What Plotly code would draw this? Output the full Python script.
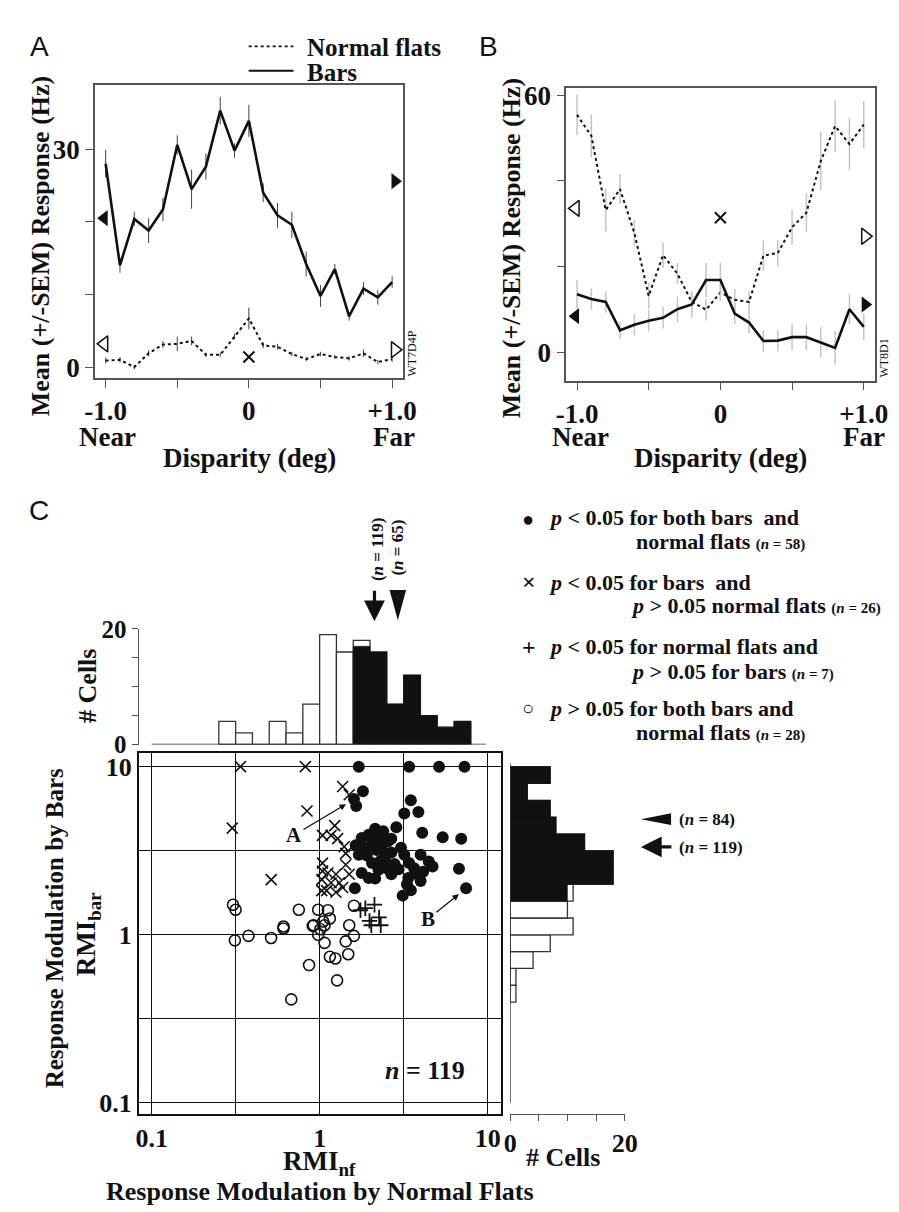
import math
import plotly.graph_objects as go

W, H = 899, 1212
SERIF = "Liberation Serif"
SANS = "Liberation Sans"
INK = "#111111"

# ---------------- Panel A / B data ----------------
disparity = [-1.0, -0.9, -0.8, -0.7, -0.6, -0.5, -0.4, -0.3, -0.2, -0.1, 0.0,
             0.1, 0.2, 0.3, 0.4, 0.5, 0.6, 0.7, 0.8, 0.9, 1.0]
disp_ticks = [-1.0, -0.5, 0.0, 0.5, 1.0]
disp_ticktext = ["-1.0", "", "0", "", "+1.0"]

A_bars = [28.0, 14.0, 20.4, 18.8, 21.7, 30.6, 24.5, 27.6, 35.3, 29.8, 33.9,
          24.0, 20.9, 19.6, 14.2, 9.8, 13.5, 7.0, 10.8, 9.6, 11.7]
A_bars_sem = [1.9, 1.0, 1.0, 1.7, 1.6, 1.3, 2.7, 1.8, 1.9, 1.0, 2.2,
              1.3, 1.7, 1.8, 1.7, 1.5, 0.7, 0.6, 0.9, 1.0, 0.8]
A_flats = [0.9, 1.0, 0.0, 1.9, 3.1, 3.2, 3.6, 1.7, 1.7, 4.2, 6.7,
           3.0, 2.8, 1.8, 1.1, 1.8, 1.4, 1.2, 1.9, 0.7, 1.1]
A_flats_sem = [0.4, 0.4, 0.3, 0.4, 0.5, 1.0, 0.6, 0.3, 0.3, 0.4, 1.5,
               0.4, 0.4, 0.3, 0.3, 0.3, 0.3, 0.3, 0.5, 0.3, 0.4]
A_edge_x = [-1.01, 1.02]
A_bars_mono = [20.5, 25.6]      # filled triangles (left eye, right eye)
A_flats_mono = [3.2, 2.4]       # open triangles
A_cross = 1.4

B_flats = [55.4, 50.5, 33.2, 38.1, 27.9, 13.2, 22.7, 18.4, 11.8, 10.0, 14.0,
           12.3, 11.8, 22.6, 23.2, 29.2, 32.6, 44.6, 52.8, 48.6, 53.1]
B_flats_sem = [4.7, 5.0, 5.0, 3.5, 3.0, 3.0, 3.0, 2.5, 2.5, 2.5, 2.0,
               2.5, 2.5, 3.5, 3.0, 4.0, 4.5, 6.8, 6.0, 6.0, 5.5]
B_bars = [13.6, 12.5, 11.8, 5.2, 6.5, 7.4, 8.1, 10.1, 11.2, 16.9, 16.9,
          9.1, 7.0, 2.7, 2.8, 3.6, 3.6, 2.4, 1.1, 10.1, 6.0]
B_bars_sem = [3.2, 2.5, 2.5, 2.0, 2.5, 2.5, 2.5, 3.0, 3.0, 4.0, 4.0,
              2.5, 2.5, 2.5, 2.5, 3.0, 3.0, 3.5, 4.0, 3.5, 3.0]
B_edge_x = [-1.01, 1.01]
B_bars_mono = [8.5, 11.2]
B_flats_mono = [33.6, 27.1]
B_cross = 31.4

# ---------------- Panel C data ----------------
both_nf = [1.71, 3.41, 5.14, 7.28, 1.81, 1.60, 1.65, 3.49, 3.87, 3.19, 2.86, 4.08, 5.40, 6.96,
           2.14, 2.39, 1.96, 1.78, 1.64, 2.05, 2.19, 1.91, 2.67, 3.05, 2.44, 2.79, 2.05, 1.78,
           2.14, 1.62, 3.41, 3.99, 4.46, 4.13, 3.37, 3.49, 3.12, 6.75, 7.44, 2.24, 1.87, 2.34,
           2.50, 2.09, 2.67, 2.29, 3.19, 3.65, 2.67, 1.96, 3.99, 3.31, 1.71, 2.55, 2.95, 3.80,
           4.70, 2.30]
both_bar = [10, 10, 10, 10, 7.13, 6.43, 5.83, 6.31, 5.38, 5.26, 4.36, 4.05, 3.80, 3.73,
            4.27, 4.13, 3.93, 3.76, 3.41, 3.49, 3.19, 2.96, 3.09, 3.29, 2.85, 2.64, 2.67, 2.33,
            2.16, 1.89, 2.67, 2.99, 2.73, 2.37, 2.18, 1.84, 1.71, 2.47, 1.89, 2.44, 3.27, 3.27,
            2.49, 3.81, 3.73, 3.57, 2.99, 2.49, 2.29, 2.18, 2.09, 2.00, 2.99, 3.60, 2.45, 2.30,
            2.55, 2.75]
bars_nf = [0.338, 0.822, 1.37, 1.50, 0.841, 0.302, 1.23, 1.04, 1.17, 1.28, 1.40, 1.43, 0.515,
           1.04, 1.04, 1.03, 1.25, 1.43, 1.50, 1.17, 1.31, 1.10, 1.25, 1.03, 1.37, 1.12]
bars_bar = [10, 10, 7.62, 6.81, 5.45, 4.31, 4.46, 3.90, 3.90, 3.73, 3.34, 3.05, 2.13,
            2.67, 2.39, 2.13, 2.29, 2.61, 2.29, 2.04, 2.04, 1.83, 1.79, 1.83, 1.91, 2.33]
flats_nf = [1.87, 2.12, 1.98, 2.26, 2.31, 2.03, 1.75]
flats_bar = [1.44, 1.51, 1.21, 1.27, 1.14, 1.14, 1.40]
none_nf = [0.305, 0.316, 0.752, 0.98, 1.12, 1.60, 1.15, 0.61, 0.92, 1.07, 1.50, 0.313, 0.377,
           0.514, 0.609, 0.91, 0.98, 1.01, 1.07, 1.43, 1.60, 1.15, 1.24, 1.48, 0.865, 1.27,
           0.678, 1.05]
none_bar = [1.51, 1.41, 1.41, 1.41, 1.40, 1.49, 1.25, 1.12, 1.14, 1.14, 1.14, 0.927, 0.986,
            0.957, 1.09, 1.13, 1.00, 1.08, 0.896, 0.914, 0.986, 0.741, 0.723, 0.766, 0.661,
            0.536, 0.413, 1.20]
log_ticks = [0.1, 0.316, 1, 3.16, 10]
log_ticktext = ["0.1", "", "1", "", "10"]

# histograms: bins in log10(RMI), width 0.1
top_bin_low = [-0.6, -0.5, -0.4, -0.3, -0.2, -0.1, 0.0, 0.1, 0.2, 0.3, 0.4, 0.5, 0.6, 0.7, 0.8]
top_open = [4, 2, 0, 4, 2, 7, 19, 16, 1, 0, 0, 0, 0, 0, 0]
top_filled = [0, 0, 0, 0, 0, 0, 0, 0, 17, 16, 7, 12, 5, 3, 4]
right_bin_low = [-0.4, -0.3, -0.2, -0.1, 0.0, 0.1, 0.2, 0.3, 0.4, 0.5, 0.6, 0.7, 0.8, 0.9]
right_open = [1, 1, 4, 7, 11, 10, 1, 0, 0, 0, 0, 0, 0, 0]
right_filled = [0, 0, 0, 0, 0, 0, 10, 18, 18, 13, 8, 7, 3, 7]
hist_ticks = [0, 5, 10, 15, 20]
hist_ticktext = ["0", "", "", "", "20"]

mean_nf_all, mean_nf_sig = 2.12, 2.92      # n = 119, n = 65
mean_bar_all, mean_bar_sig = 3.33, 4.87    # n = 119, n = 84


def PX(x):
    return x / W


def PY(y):
    return 1 - y / H


fig = go.Figure()

# ---------------- Panel A ----------------
fig.add_trace(go.Scatter(x=disparity, y=A_flats, mode="lines", xaxis="x", yaxis="y",
                         line=dict(color=INK, width=2, dash="dot"),
                         error_y=dict(type="data", array=A_flats_sem, color="#444",
                                      thickness=1, width=0)))
fig.add_trace(go.Scatter(x=disparity, y=A_bars, mode="lines", xaxis="x", yaxis="y",
                         line=dict(color=INK, width=2.6),
                         error_y=dict(type="data", array=A_bars_sem, color="#444",
                                      thickness=1, width=0)))
fig.add_trace(go.Scatter(x=A_edge_x, y=A_bars_mono, mode="markers", xaxis="x", yaxis="y",
                         marker=dict(symbol=["triangle-left", "triangle-right"], size=14,
                                     color=INK, line=dict(width=0))))
fig.add_trace(go.Scatter(x=A_edge_x, y=A_flats_mono, mode="markers", xaxis="x", yaxis="y",
                         marker=dict(symbol=["triangle-left-open", "triangle-right-open"],
                                     size=14, color=INK, line=dict(width=1.5, color=INK))))
fig.add_trace(go.Scatter(x=[0.0], y=[A_cross], mode="markers", xaxis="x", yaxis="y",
                         marker=dict(symbol="x-thin-open", size=11, color=INK,
                                     line=dict(width=2, color=INK))))

# ---------------- Panel B ----------------
fig.add_trace(go.Scatter(x=disparity, y=B_flats, mode="lines", xaxis="x2", yaxis="y2",
                         line=dict(color=INK, width=2, dash="dot"),
                         error_y=dict(type="data", array=B_flats_sem, color="#c4c4c4",
                                      thickness=1.5, width=0)))
fig.add_trace(go.Scatter(x=disparity, y=B_bars, mode="lines", xaxis="x2", yaxis="y2",
                         line=dict(color=INK, width=2.6),
                         error_y=dict(type="data", array=B_bars_sem, color="#c4c4c4",
                                      thickness=1.5, width=0)))
fig.add_trace(go.Scatter(x=B_edge_x, y=B_bars_mono, mode="markers", xaxis="x2", yaxis="y2",
                         marker=dict(symbol=["triangle-left", "triangle-right"], size=14,
                                     color=INK, line=dict(width=0))))
fig.add_trace(go.Scatter(x=B_edge_x, y=B_flats_mono, mode="markers", xaxis="x2", yaxis="y2",
                         marker=dict(symbol=["triangle-left-open", "triangle-right-open"],
                                     size=14, color=INK, line=dict(width=1.5, color=INK))))
fig.add_trace(go.Scatter(x=[0.0], y=[B_cross], mode="markers", xaxis="x2", yaxis="y2",
                         marker=dict(symbol="x-thin-open", size=11, color=INK,
                                     line=dict(width=2, color=INK))))

# ---------------- Panel C: top histogram ----------------
top_centers = [b + 0.05 for b in top_bin_low]
top_total = [o + f for o, f in zip(top_open, top_filled)]
fig.add_trace(go.Bar(x=top_centers, y=top_total, width=0.1, xaxis="x3", yaxis="y3",
                     marker=dict(color="white", line=dict(color="#333", width=1.3))))
fig.add_trace(go.Bar(x=top_centers, y=top_filled, width=0.1, xaxis="x3", yaxis="y3",
                     marker=dict(color=INK, line=dict(color=INK, width=0.5))))
fig.add_trace(go.Scatter(x=[-1.0, 0.99], y=[0, 0], mode="lines", xaxis="x3", yaxis="y3",
                         line=dict(color="#333", width=1.3), cliponaxis=False))

# ---------------- Panel C: right histogram ----------------
right_centers = [b + 0.05 for b in right_bin_low]
right_total = [o + f for o, f in zip(right_open, right_filled)]
fig.add_trace(go.Bar(y=right_centers, x=right_total, width=0.1, orientation="h",
                     xaxis="x4", yaxis="y4",
                     marker=dict(color="white", line=dict(color="#333", width=1.3))))
fig.add_trace(go.Bar(y=right_centers, x=right_filled, width=0.1, orientation="h",
                     xaxis="x4", yaxis="y4",
                     marker=dict(color=INK, line=dict(color=INK, width=0.5))))
fig.add_trace(go.Scatter(x=[0, 0], y=[-1.0, 1.02], mode="lines", xaxis="x4", yaxis="y4",
                         line=dict(color="#333", width=1.3), cliponaxis=False))

# ---------------- Panel C: scatter ----------------
fig.add_trace(go.Scatter(x=none_nf, y=none_bar, mode="markers", xaxis="x5", yaxis="y5",
                         marker=dict(symbol="circle-open", size=11, color=INK,
                                     line=dict(width=1.6, color=INK))))
fig.add_trace(go.Scatter(x=flats_nf, y=flats_bar, mode="markers", xaxis="x5", yaxis="y5",
                         marker=dict(symbol="cross-thin-open", size=11, color=INK,
                                     line=dict(width=1.8, color=INK))))
fig.add_trace(go.Scatter(x=bars_nf, y=bars_bar, mode="markers", xaxis="x5", yaxis="y5",
                         marker=dict(symbol="x-thin-open", size=11, color=INK,
                                     line=dict(width=1.6, color=INK))))
fig.add_trace(go.Scatter(x=both_nf, y=both_bar, mode="markers", xaxis="x5", yaxis="y5",
                         marker=dict(symbol="circle", size=12, color=INK,
                                     line=dict(width=0))))

# ---------------- axes ----------------
tickfont_big = dict(family=SERIF, size=27, color=INK, weight="bold")
box = dict(showline=True, mirror=True, linecolor="#555", linewidth=1.5, zeroline=False,
           showgrid=False)

fig.update_layout(
    xaxis=dict(domain=[PX(79), PX(396)], range=[-1.075, 1.079], anchor="y",
               tickvals=disp_ticks, ticktext=disp_ticktext, ticks="outside", ticklen=8,
               tickcolor="#555", tickfont=tickfont_big, **box),
    yaxis=dict(domain=[PY(365), PY(65.7)], range=[-1.48, 38.8], anchor="x",
               tickvals=[0, 10, 20, 30], ticktext=["0", "", "", "30"], ticks="outside",
               ticklen=8, tickcolor="#555", tickfont=tickfont_big, **box),
    xaxis2=dict(domain=[PX(563.3), PX(880)], range=[-1.075, 1.075], anchor="y2",
                tickvals=disp_ticks, ticktext=disp_ticktext, ticks="outside", ticklen=8,
                tickcolor="#555", tickfont=tickfont_big, **box),
    yaxis2=dict(domain=[PY(367.7), PY(68.3)], range=[-6.5, 61.7], anchor="x2",
                tickvals=[0, 20, 40, 60], ticktext=["0", "", "", "60"], ticks="outside",
                ticklen=8, tickcolor="#555", tickfont=tickfont_big, **box),
    xaxis3=dict(domain=[PX(124), PX(496)], range=[-1.077, 1.078], anchor="y3",
                visible=False),
    yaxis3=dict(domain=[PY(740), PY(621.7)], range=[0, 20], anchor="x3",
                tickvals=hist_ticks, ticktext=hist_ticktext, ticks="outside", ticklen=6,
                tickcolor="#555", showline=True, linecolor="#555", linewidth=1.3,
                showgrid=False, zeroline=False,
                tickfont=dict(family=SERIF, size=25, color=INK, weight="bold")),
    xaxis4=dict(domain=[PX(505.7), PX(623.3)], range=[0, 20], anchor="y4",
                tickvals=hist_ticks, ticktext=hist_ticktext, ticks="outside", ticklen=6,
                tickcolor="#555", showline=True, linecolor="#555", linewidth=1.3,
                showgrid=False, zeroline=False,
                tickfont=dict(family=SERIF, size=26, color=INK, weight="bold")),
    yaxis4=dict(domain=[PY(1118), PY(748.7)], range=[-1.066, 1.081], anchor="x4",
                visible=False),
    xaxis5=dict(domain=[PX(124), PX(496)], type="log", range=[-1.077, 1.078], anchor="y5",
                tickvals=log_ticks, ticktext=log_ticktext, ticks="",
                showgrid=True, gridcolor=INK, gridwidth=1.2,
                showline=True, mirror=True, linecolor=INK, linewidth=1.6, zeroline=False,
                tickfont=dict(family=SERIF, size=26, color=INK, weight="bold")),
    yaxis5=dict(domain=[PY(1118), PY(748.7)], type="log", range=[-1.066, 1.081], anchor="x5",
                tickvals=log_ticks, ticktext=log_ticktext, ticks="",
                showgrid=True, gridcolor=INK, gridwidth=1.2,
                showline=True, mirror=True, linecolor=INK, linewidth=1.6, zeroline=False,
                tickfont=dict(family=SERIF, size=26, color=INK, weight="bold")),
    barmode="overlay",
    showlegend=False,
    width=W, height=H,
    margin=dict(l=0, r=0, t=0, b=0),
    paper_bgcolor="white", plot_bgcolor="white",
)

# ---------------- annotations ----------------
anns = []


def text(x, y, s, size, bold=True, family=SERIF, xanchor="center", angle=0, yanchor="middle"):
    anns.append(dict(x=PX(x), y=PY(y), xref="paper", yref="paper", text=s, showarrow=False,
                     xanchor=xanchor, yanchor=yanchor, textangle=angle,
                     font=dict(family=family, size=size, color=INK,
                               weight="bold" if bold else "normal")))


# panel letters
text(22, 26, "A", 28, bold=False, family=SANS)
text(483, 26, "B", 28, bold=False, family=SANS)
text(22, 501, "C", 28, bold=False, family=SANS)

# panel A / B titles
text(23, 230, "Mean (+/-SEM) Response (Hz)", 26, angle=-90)
text(507, 232, "Mean (+/-SEM) Response (Hz)", 26, angle=-90)
for cx, nx, fx in [(237.5, 91.7, 386.7), (722, 578, 869)]:
    text(nx, 425, "Near", 27)
    text(fx, 425, "Far", 27)
    text(cx, 447, "Disparity (deg)", 27)
text(405, 340, "WT7D4P", 12, bold=False, angle=-90)
text(890, 345, "WT8D1", 12, bold=False, angle=-90)

# panel A legend
text(295, 27, "Normal flats", 25, xanchor="left")
text(295, 53, "Bars", 25, xanchor="left")

# panel C labels
text(72, 680, "# Cells", 26, angle=-90)
text(37, 928, "Response Modulation by Bars", 25, angle=-90)
text(72, 934, "RMI<sub>bar</sub>", 27, angle=-90)
text(310, 1168, "RMI<sub>nf</sub>", 27)
text(310, 1197, "Response Modulation by Normal Flats", 26)
text(560, 1162, "# Cells", 26)
text(418, 1073, "<i>n</i> = 119", 26)

# mean indicators text
text(370, 540, "(<i>n</i> = 119)", 17, angle=-90)
text(390, 539, "(<i>n</i> = 65)", 17, angle=-90)
text(677, 817, "(<i>n</i> = 84)", 17, xanchor="left")
text(677, 845, "(<i>n</i> = 119)", 17, xanchor="left")

# C legend
small = '<span style="font-size:15px">(<i>n</i> = %d)</span>'
text(524, 509, "●", 20, xanchor="center")
text(543, 508, "<i>p</i> < 0.05 for both bars  and", 22, xanchor="left")
text(633, 532, "normal flats " + small % 58, 22, xanchor="left")
text(525, 574, "×", 24, xanchor="center")
text(543, 574, "<i>p</i> < 0.05 for bars  and", 22, xanchor="left")
text(628, 598, "<i>p</i> > 0.05 normal flats " + small % 26, 22, xanchor="left")
text(525, 640, "+", 24, xanchor="center")
text(543, 640, "<i>p</i> < 0.05 for normal flats and", 22, xanchor="left")
text(628, 665, "<i>p</i> > 0.05 for bars " + small % 7, 22, xanchor="left")
text(524, 703, "○", 20, xanchor="center")
text(543, 703, "<i>p</i> > 0.05 for both bars and", 22, xanchor="left")
text(633, 728, "normal flats " + small % 28, 22, xanchor="left")

# scatter example arrows A and B
anns.append(dict(x=PX(337), y=PY(801), xref="paper", yref="paper", ax=-52, ay=31,
                 text="A", showarrow=True, arrowhead=2, arrowsize=1, arrowwidth=1.3,
                 arrowcolor=INK, font=dict(family=SERIF, size=21, color=INK, weight="bold")))
anns.append(dict(x=PX(453), y=PY(893), xref="paper", yref="paper", ax=-31, ay=25,
                 text="B", showarrow=True, arrowhead=2, arrowsize=1, arrowwidth=1.3,
                 arrowcolor=INK, font=dict(family=SERIF, size=21, color=INK, weight="bold")))

# mean arrows
anns.append(dict(x=math.log10(mean_nf_all), y=PY(614), xref="x3", yref="paper", ax=0, ay=-32,
                 text="", showarrow=True, arrowhead=2, arrowsize=1.3, arrowwidth=3.2,
                 arrowcolor=INK))
anns.append(dict(x=PX(640), y=math.log10(mean_bar_all), xref="paper", yref="y4", ax=32, ay=0,
                 text="", showarrow=True, arrowhead=2, arrowsize=1.3, arrowwidth=3.2,
                 arrowcolor=INK))

# ---------------- shapes ----------------
shapes = []
# panel A legend lines
shapes.append(dict(type="line", xref="paper", yref="paper", x0=PX(237), x1=PX(283),
                   y0=PY(26), y1=PY(26), line=dict(color=INK, width=1.6, dash="dot")))
shapes.append(dict(type="line", xref="paper", yref="paper", x0=PX(237), x1=PX(283),
                   y0=PY(51), y1=PY(51), line=dict(color=INK, width=2)))
# top triangle (n = 65) pointing down
lx = math.log10(mean_nf_sig)
hw = 8.5 / 172.5
shapes.append(dict(type="path", xref="x3", yref="paper", fillcolor=INK, line=dict(width=0),
                   path="M %f,%f L %f,%f L %f,%f Z" % (lx - hw, PY(582), lx + hw, PY(582),
                                                       lx, PY(613))))
# right triangle (n = 84) pointing left
ly = math.log10(mean_bar_sig)
hh = 6 / 172.0
shapes.append(dict(type="path", xref="paper", yref="y4", fillcolor=INK, line=dict(width=0),
                   path="M %f,%f L %f,%f L %f,%f Z" % (PX(640), ly, PX(671), ly + hh,
                                                       PX(671), ly - hh)))

fig.update_layout(annotations=anns, shapes=shapes)
fig.write_html("out.html")
